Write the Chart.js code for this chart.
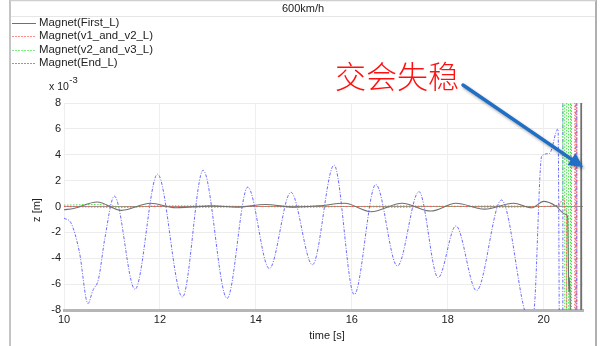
<!DOCTYPE html>
<html>
<head>
<meta charset="utf-8">
<script src="https://cdn.jsdelivr.net/npm/chart.js@4.4.1/dist/chart.umd.min.js"></script>
<style>
html,body{margin:0;padding:0;background:#fff;}
#wrap{width:606px;height:346px;position:relative;}
canvas{display:block;}
</style>
</head>
<body>
<div id="wrap"><canvas id="c" width="606" height="346"></canvas></div>
<script>
// ---- data (z in units of 1e-3 m) ----
const seriesNames = ["Magnet(First_L)", "Magnet(v1_and_v2_L)", "Magnet(v2_and_v3_L)", "Magnet(End_L)"];
const xTicks = [10, 12, 14, 16, 18, 20];
const yTicks = [-8, -6, -4, -2, 0, 2, 4, 6, 8];

const firstT = [10.0, 10.2, 10.69, 11.2, 11.8, 12.33, 12.6, 13.1, 13.6, 14.2, 14.8, 15.3, 15.85, 16.4, 17.05, 17.65, 18.17, 18.77, 19.37, 19.75, 20.0, 20.25, 20.45, 20.5, 20.515, 20.525, 20.535, 20.55, 20.6, 20.773, 20.777, 20.788, 20.792];
const firstZ = [-0.25, -0.15, 0.35, -0.3, 0.25, -0.1, -0.05, 0.05, -0.05, 0.15, -0.05, 0.05, 0.25, -0.4, 0.25, -0.35, 0.25, -0.2, 0.25, -0.1, 0.4, 0.05, -0.6, -0.8, -4.3, -6.6, -5.5, -7.0, -20, -20, 20, 20, -20];

const v12T = [10.0, 11.0, 12.0, 13.0, 14.0, 15.0, 16.0, 17.0, 18.0, 19.0, 20.0, 20.3, 20.42, 20.45, 20.478, 20.482, 20.648, 20.652, 20.688, 20.692];
const v12Z = [0.0, -0.05, 0.0, -0.05, 0.0, -0.05, 0.0, -0.05, 0.02, -0.05, 0.0, 0.1, 0.6, -0.3, -0.3, -20, -20, 20, 20, -20];

const v23T = [10.0, 10.7, 11.3, 12.0, 13.0, 14.0, 15.0, 16.0, 17.0, 18.0, 19.0, 20.0, 20.38, 20.398, 20.402, 20.438, 20.442, 20.478, 20.482, 20.518, 20.522, 20.558, 20.562, 20.578, 20.582];
const v23Z = [0.1, 0.15, -0.05, 0.05, 0.05, 0.0, 0.05, 0.0, 0.05, 0.0, 0.05, 0.0, 0.1, 0.1, 20, 20, -20, -20, 20, 20, -20, -20, 20, 20, -20];

const endT = [10.0, 10.15, 10.32, 10.5, 10.6, 10.72, 10.85, 11.05, 11.48, 11.95, 12.47, 12.9, 13.4, 13.83, 14.28, 14.73, 15.18, 15.63, 16.05, 16.5, 16.95, 17.4, 17.8, 18.17, 18.6, 19.12, 19.6, 19.7, 19.8, 19.96, 20.12, 20.3, 20.345, 20.398, 20.402, 20.668, 20.672, 20.688, 20.692];
const endZ = [-0.9, -1.3, -3.5, -7.5, -6.5, -5.6, -2.5, 0.8, -6.4, 2.5, -7.0, 2.8, -7.1, 1.5, -4.8, 1.1, -4.5, 3.2, -6.8, 1.7, -4.6, 1.15, -5.5, -1.5, -6.5, 0.5, -8.0, -9.0, -8.0, 3.9, 4.1, 6.0, -20, -20, 20, 20, -20, -20, 20];

const pts = (t, z) => t.map((v, i) => ({x: v, y: z[i]}));

const styles = [
  {color: '#707070', legend: '#707070', dash: [], width: 1.1},
  {color: '#ff5252', legend: '#ff8a8a', dash: [1.5, 1.5], width: 1},
  {color: '#3fe03f', legend: '#7cf07c', dash: [1.5, 1.5], width: 1},
  {color: 'rgba(80,80,255,0.85)', legend: '#8c8cff', dash: [3, 1.5, 1, 1.5], width: 1}
];

const dataArr = [pts(firstT, firstZ), pts(v12T, v12Z), pts(v23T, v23Z), pts(endT, endZ)];

const datasets = seriesNames.map((n, i) => ({
  label: n,
  data: dataArr[i],
  borderColor: styles[i].color,
  borderDash: styles[i].dash,
  borderWidth: styles[i].width,
  pointRadius: 0,
  cubicInterpolationMode: 'monotone',
  fill: false
}));

const FONT = '"Liberation Sans", Arial, sans-serif';

const decor = {
  id: 'decor',
  beforeDraw(chart) {
    const ctx = chart.ctx;
    ctx.save();
    ctx.fillStyle = '#fff';
    ctx.fillRect(0, 0, 606, 346);
    ctx.restore();
  },
  afterDraw(chart) {
    const ctx = chart.ctx;
    ctx.save();
    // frame
    ctx.strokeStyle = '#c4c4c4';
    ctx.lineWidth = 2;
    ctx.beginPath(); ctx.moveTo(10, 0); ctx.lineTo(10, 346); ctx.stroke();
    ctx.strokeStyle = '#b0b0b0';
    ctx.beginPath(); ctx.moveTo(596, 0); ctx.lineTo(596, 346); ctx.stroke();
    ctx.strokeStyle = '#cfcfcf'; ctx.lineWidth = 1.5;
    ctx.beginPath(); ctx.moveTo(10, 0.5); ctx.lineTo(596, 0.5); ctx.stroke();
    ctx.strokeStyle = '#e6e6e6'; ctx.lineWidth = 1;
    ctx.beginPath(); ctx.moveTo(11, 16.5); ctx.lineTo(595, 16.5); ctx.stroke();
    // title
    ctx.fillStyle = '#222';
    ctx.font = '11px ' + FONT;
    ctx.textAlign = 'center'; ctx.textBaseline = 'middle';
    ctx.fillText('600km/h', 303, 8.5);
    // legend
    ctx.textAlign = 'left';
    ctx.font = '11.4px ' + FONT;
    const rows = [23, 36.3, 49.6, 63];
    seriesNames.forEach((n, i) => {
      const y = rows[i];
      ctx.strokeStyle = styles[i].legend;
      ctx.lineWidth = 1;
      ctx.setLineDash(styles[i].dash.length ? [2, 1] : []);
      ctx.beginPath(); ctx.moveTo(12, Math.round(y) + 0.5); ctx.lineTo(36, Math.round(y) + 0.5); ctx.stroke();
      ctx.setLineDash([]);
      ctx.fillStyle = '#222';
      ctx.fillText(n, 39, y);
    });
    // exponent
    ctx.font = '10.5px ' + FONT;
    ctx.textBaseline = 'middle';
    ctx.fillText('x 10', 49, 87);
    const w = ctx.measureText('x 10').width;
    ctx.font = '9.5px ' + FONT;
    ctx.fillText('-3', 49 + w + 0.5, 80.5);
    // axis titles
    ctx.font = '11px ' + FONT;
    ctx.textAlign = 'center';
    ctx.fillText('time [s]', 327, 336);
    ctx.save();
    ctx.translate(37, 210);
    ctx.rotate(-Math.PI / 2);
    ctx.fillText('z [m]', 0, 0);
    ctx.restore();
    // annotation text
    ctx.fillStyle = '#ff1010';
    ctx.font = '300 31px "Noto Sans CJK SC"';
    ctx.textAlign = 'left'; ctx.textBaseline = 'middle';
    ctx.fillText('交会失稳', 335, 76);
    // arrow
    ctx.save();
    ctx.shadowColor = 'rgba(0,0,0,0.35)';
    ctx.shadowBlur = 3; ctx.shadowOffsetX = 1.5; ctx.shadowOffsetY = 2;
    ctx.strokeStyle = '#1f6fc6'; ctx.fillStyle = '#1f6fc6';
    ctx.lineWidth = 3.5; ctx.lineCap = 'round';
    const x0 = 463, y0 = 85, x1 = 583, y1 = 167;
    const ang = Math.atan2(y1 - y0, x1 - x0);
    const hl = 14, hw = 7;
    const bx = x1 - hl * Math.cos(ang), by = y1 - hl * Math.sin(ang);
    ctx.beginPath(); ctx.moveTo(x0, y0); ctx.lineTo(bx, by); ctx.stroke();
    ctx.beginPath();
    ctx.moveTo(x1, y1);
    ctx.lineTo(bx + hw * Math.sin(ang), by - hw * Math.cos(ang));
    ctx.lineTo(bx - hw * Math.sin(ang), by + hw * Math.cos(ang));
    ctx.closePath(); ctx.fill();
    ctx.restore();
    ctx.restore();
  }
};

new Chart(document.getElementById('c'), {
  type: 'line',
  data: {datasets},
  options: {
    responsive: false,
    animation: false,
    devicePixelRatio: 1,
    layout: {padding: {left: 0, top: 103, right: 23, bottom: 0}},
    plugins: {legend: {display: false}, tooltip: {enabled: false}, title: {display: false}},
    scales: {
      x: {
        type: 'linear', min: 10, max: 20.82,
        afterBuildTicks: s => { s.ticks = xTicks.map(v => ({value: v})); },
        afterFit: s => { s.height = 36; },
        grid: {color: '#efefef', lineWidth: 1, drawTicks: false},
        border: {color: '#b6b6b6', width: 3},
        ticks: {font: {family: FONT, size: 11}, color: '#222', padding: 3, maxRotation: 0, autoSkip: false}
      },
      y: {
        type: 'linear', min: -8, max: 8,
        afterBuildTicks: s => { s.ticks = yTicks.map(v => ({value: v})); },
        afterFit: s => { s.width = 64; },
        grid: {color: c => (c.tick && c.tick.value === 0 ? '#9a9a9a' : '#ececec'), lineWidth: 1, drawTicks: false},
        border: {display: false},
        ticks: {font: {family: FONT, size: 11}, color: '#222', padding: 3}
      }
    }
  },
  plugins: [decor]
});
</script>
</body>
</html>
